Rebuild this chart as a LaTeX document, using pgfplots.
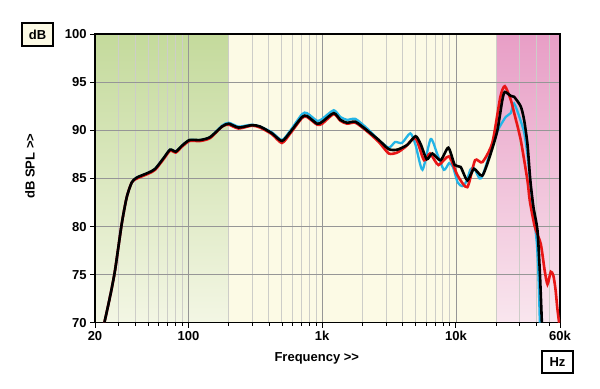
\documentclass[border=0pt]{standalone}
\usepackage{fontspec}
\setmainfont[Ligatures={Common}]{Liberation Sans}
\usepackage{pgfplots}
\pgfplotsset{compat=1.18}
\definecolor{cream}{RGB}{252,250,229}
\definecolor{greentop}{RGB}{196,218,156}
\definecolor{greenbot}{RGB}{243,246,228}
\definecolor{pinktop}{RGB}{232,158,198}
\definecolor{pinkbot}{RGB}{249,230,238}
\definecolor{cred}{RGB}{232,22,22}
\definecolor{cblue}{RGB}{35,180,230}
\definecolor{majgrid}{RGB}{150,150,150}
\definecolor{mingrid}{RGB}{205,205,200}
\begin{document}
\begin{tikzpicture}
\begin{axis}[
  set layers,
  at={(95bp,66.3bp)}, anchor=south west,
  scale only axis, width=465bp, height=288.4bp,
  xmode=log, xmin=20, xmax=60000, ymin=70, ymax=100,
  xtick={20,100,1000,10000,60000},
  xticklabels={20,100,1k,10k,60k},
  minor xtick={30,40,50,60,70,80,90,200,300,400,500,600,700,800,900,2000,3000,4000,5000,6000,7000,8000,9000,20000,30000,40000,50000},
  ytick={70,75,80,85,90,95,100},
  /pgf/number format/assume math mode=true,
  tick pos=left,
  tick align=outside,
  major tick length=5bp,
  minor tick length=3bp,
  tick style={black, line width=0.9bp},
  grid=both,
  major grid style={majgrid, line width=0.8bp},
  minor grid style={mingrid, line width=1bp},
  axis line style={black, line width=1.6bp},
  axis background/.style={fill=cream},
  tick label style={font=\fontsize{13bp}{15bp}\selectfont\bfseries},
  xlabel={Frequency >{}>},
  ylabel={dB SPL >{}>},
  label style={font=\fontsize{13bp}{15bp}\selectfont\bfseries},
  xlabel style={at={(axis description cs:0.477,-0.123)}, anchor=center},
  ylabel style={at={(axis description cs:-0.14,0.543)}, anchor=center},
  clip=true,
]
\addplot[on layer=axis background, draw=none, top color=greentop, bottom color=greenbot] coordinates {(20,70)(200,70)(200,100)(20,100)} -- cycle;
\addplot[on layer=axis background, draw=none, top color=pinktop, bottom color=pinkbot] coordinates {(20000,70)(60000,70)(60000,100)(20000,100)} -- cycle;

% blue
\addplot[cblue, line width=2.3bp, smooth, tension=0.4] coordinates {
(23.5,70)(25.9,72.7)(28.2,75.4)(31.7,80.3)(34.6,83.1)(37.7,84.6)(41.1,85.1)(50.1,85.6)(56.3,86.0)(65,87.1)(72.9,88.0)(80.4,87.8)(89.2,88.4)(101.7,89.0)(122,89.0)(145,89.3)(178,90.5)(200,90.8)(237,90.4)(298,90.6)(344,90.4)(421,89.8)(500,89.0)(578,90.0)(707,91.7)(770,91.8)(916,91.0)(1000,91.2)(1219,92.1)(1368,91.4)(1535,91.1)(1773,91.2)(2168,90.2)(2650,89.0)(3148,88.2)(3510,88.8)(3950,88.7)(4560,89.7)(4988,88.5)(5620,85.9)(6470,89.1)(7230,87.6)(8130,85.9)(8900,86.6)(9500,86.2)(10300,84.6)(11150,84.2)(12000,84.7)(12800,85.9)(13640,86.1)(15000,85.0)(15800,85.3)(17650,87.3)(20400,89.9)(23560,91.4)(25690,91.8)(27200,92.8)(30000,91.3)(32330,89.8)(34250,87.5)(36000,84.5)(38000,81.5)(40300,78.2)(41500,74.5)(42400,70)
};
% red
\addplot[cred, line width=2.6bp, smooth, tension=0.4] coordinates {
(23.5,70)(25.9,72.7)(28.2,75.4)(31.7,80.3)(34.6,83.1)(37.7,84.6)(41.1,85.0)(50.1,85.5)(56.3,85.9)(65,87.0)(72.9,87.9)(80.4,87.7)(89.2,88.3)(101.7,88.9)(122,88.9)(145,89.2)(178,90.4)(200,90.6)(237,90.2)(298,90.5)(344,90.3)(421,89.6)(500,88.7)(578,89.7)(707,91.3)(770,91.4)(916,90.6)(1000,90.7)(1219,91.7)(1368,91.0)(1535,90.7)(1773,90.8)(2168,89.9)(2650,88.8)(3148,87.6)(3640,87.7)(4200,88.3)(4988,89.2)(5770,86.9)(6400,87.6)(7400,86.4)(8860,87.3)(10300,85.3)(12170,84.1)(13900,86.9)(15760,86.7)(18700,88.7)(21500,93.5)(23200,94.6)(25690,93.2)(27500,91.6)(30520,89.0)(34250,84.8)(35650,82.7)(38850,80.0)(43080,78.2)(46000,75.5)(48360,74.0)(51180,75.3)(53500,74.9)(55500,73.5)(57300,71.5)(59070,70)
};
% black
\addplot[black, line width=2.6bp, smooth, tension=0.4] coordinates {
(23.5,70)(25.9,72.7)(28.2,75.4)(31.7,80.3)(34.6,83.1)(37.7,84.6)(41.1,85.1)(50.1,85.6)(56.3,86.0)(65,87.1)(72.9,88.0)(80.4,87.8)(89.2,88.4)(101.7,89.0)(122,89.0)(145,89.3)(178,90.4)(200,90.7)(237,90.3)(298,90.55)(344,90.4)(421,89.7)(500,88.9)(578,89.85)(707,91.4)(770,91.5)(916,90.7)(1000,90.9)(1219,91.8)(1368,91.1)(1535,90.8)(1773,90.9)(2168,90.0)(2650,89.0)(3148,88.05)(3640,88.0)(4325,88.5)(4988,89.4)(5440,88.6)(6050,87.0)(6660,87.6)(7680,86.9)(8780,88.2)(9800,86.4)(10840,86.2)(12170,84.8)(13640,86.0)(15760,85.3)(18200,87.6)(20400,90.0)(22250,93.2)(23200,94.0)(25690,93.6)(27200,93.5)(30520,92.5)(32330,91.1)(34250,88.6)(36000,84.8)(38000,82.0)(40700,79.6)(42500,75.0)(43900,70)
};
\end{axis}
\node[draw, line width=1.3bp, fill=cream, minimum width=31bp, minimum height=23bp, inner sep=0pt, font=\fontsize{13bp}{15bp}\selectfont\bfseries] at (37.5bp,354.5bp) {dB};
\node[draw, line width=1.3bp, fill=white, minimum width=31bp, minimum height=22bp, inner sep=0pt, font=\fontsize{13bp}{15bp}\selectfont\bfseries] at (557.5bp,27bp) {Hz};
\pgfresetboundingbox
\path[use as bounding box] (0,0) rectangle (600bp,389bp);
\end{tikzpicture}
\end{document}
